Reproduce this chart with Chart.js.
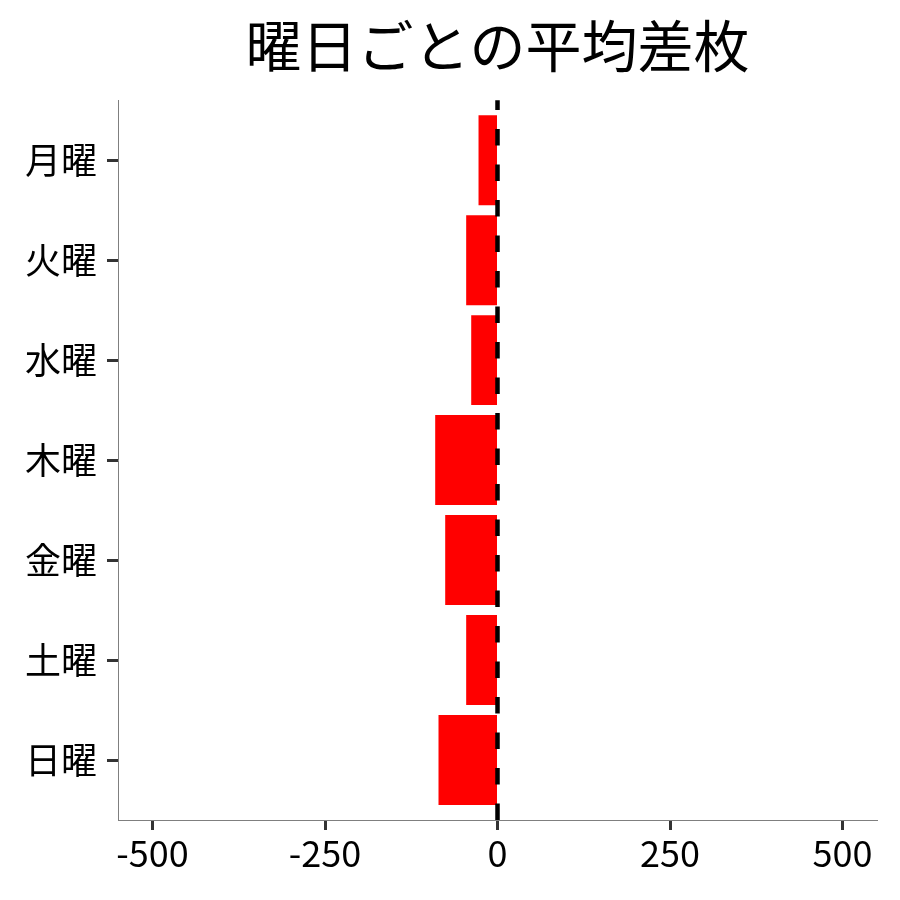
<!DOCTYPE html>
<html lang="ja">
<head>
<meta charset="utf-8">
<title>曜日ごとの平均差枚</title>
<script src="https://cdn.jsdelivr.net/npm/chart.js@4"></script>
<style>
  html, body { margin: 0; padding: 0; background: #fff; }
  #chart { display: block; }
</style>
</head>
<body>
<canvas id="chart" width="900" height="900"></canvas>
<script>
// data
const days = ['月曜', '火曜', '水曜', '木曜', '金曜', '土曜', '日曜'];
const avgDiff = [-27.5, -45.4, -38.1, -90.3, -75.8, -45.4, -85.5];
const xTicks = [-500, -250, 0, 250, 500];

Chart.defaults.font.family = "'Noto Sans CJK JP', 'Noto Sans', sans-serif";
Chart.defaults.color = '#000';

// dashed line at x = 0
const zeroLine = {
    id: 'zeroLine',
    afterDatasetsDraw(chart) {
        const { ctx, chartArea, scales } = chart;
        const x = scales.x.getPixelForValue(0);
        ctx.save();
        ctx.strokeStyle = '#000';
        ctx.lineWidth = 4.5;
        ctx.setLineDash([16.5, 19]);
        ctx.beginPath();
        ctx.moveTo(x, chartArea.bottom);
        ctx.lineTo(x, chartArea.top);
        ctx.stroke();
        ctx.restore();
    }
};

const ctx = document.querySelector('#chart').getContext('2d');

new Chart(ctx, {
    type: 'bar',
    data: {
        datasets: [
            {
                label: '平均差枚',
                data: avgDiff.map((v, i) => ({ x: v, y: i })),
                backgroundColor: '#ff0000',
                borderWidth: 0,
                barPercentage: 0.9,
                categoryPercentage: 1.0
            }
        ]
    },
    options: {
        responsive: false,
        animation: false,
        devicePixelRatio: 1,
        indexAxis: 'y',
        layout: { padding: { left: 0, right: 23, top: 0, bottom: 0 } },
        plugins: {
            legend: { display: false },
            tooltip: { enabled: false },
            title: {
                display: true,
                text: '曜日ごとの平均差枚',
                fullSize: false,
                color: '#000',
                font: { size: 56, weight: 'normal' },
                padding: { top: 12, bottom: 21 }
            }
        },
        scales: {
            x: {
                type: 'linear',
                min: -550,
                max: 550,
                afterBuildTicks: (scale) => {
                    scale.ticks = xTicks.map(v => ({ value: v }));
                },
                afterFit: (scale) => { scale.height = 80; },
                border: { display: true, color: '#7f7f7f', width: 1 },
                grid: {
                    drawOnChartArea: false,
                    drawTicks: true,
                    tickLength: 10,
                    tickColor: '#333',
                    tickWidth: 3
                },
                ticks: {
                    color: '#000',
                    font: { size: 36 },
                    padding: 2,
                    maxRotation: 0
                }
            },
            y: {
                type: 'linear',
                min: -0.6,
                max: 6.6,
                reverse: true,
                offset: false,
                afterBuildTicks: (scale) => {
                    scale.ticks = days.map((d, i) => ({ value: i }));
                },
                afterFit: (scale) => { scale.width = 118; },
                border: { display: true, color: '#7f7f7f', width: 1 },
                grid: {
                    offset: false,
                    drawOnChartArea: false,
                    drawTicks: true,
                    tickLength: 11,
                    tickColor: '#333',
                    tickWidth: 3
                },
                ticks: {
                    color: '#000',
                    font: { size: 36 },
                    padding: 10,
                    callback: (v) => days[v]
                }
            }
        }
    },
    plugins: [zeroLine]
});
</script>
</body>
</html>
